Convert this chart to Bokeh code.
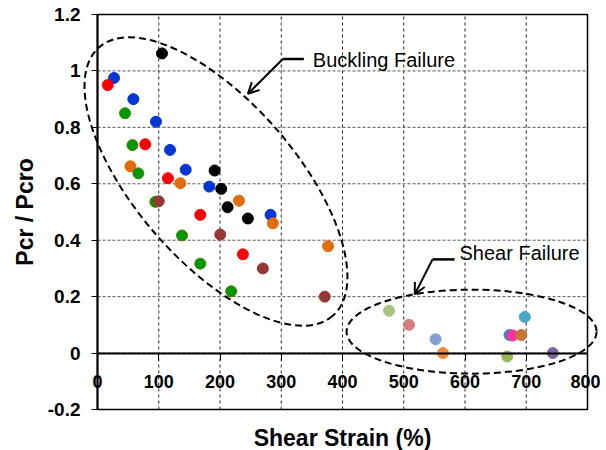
from bokeh.plotting import figure
from bokeh.models import (Range1d, FixedTicker, Arrow, OpenHead, Label, BoxAnnotation)
from bokeh.embed import file_html
from bokeh.resources import INLINE

# ---- data ----
x_ticks = [0, 100, 200, 300, 400, 500, 600, 700, 800]
x_tick_labels = ["0", "100", "200", "300", "400", "500", "600", "700", "800"]
y_ticks = [-0.2, 0.0, 0.2, 0.4, 0.6, 0.8, 1.0, 1.2]
y_tick_labels = ["-0.2", "0", "0.2", "0.4", "0.6", "0.8", "1", "1.2"]

blue_x = [27, 58.5, 95.5, 118.4, 144, 182.5, 282.5]
blue_y = [0.975, 0.90, 0.82, 0.72, 0.65, 0.59, 0.49]
red_x = [16.8, 78, 115, 167.8, 237.4]
red_y = [0.95, 0.74, 0.62, 0.49, 0.35]
orange_x = [53.7, 135.2, 231, 286.3, 376.5]
orange_y = [0.662, 0.602, 0.54, 0.46, 0.379]
green_x = [45, 57, 66.7, 94.4, 138, 167.8, 218.3]
green_y = [0.85, 0.737, 0.637, 0.536, 0.417, 0.317, 0.219]
black_x = [105.3, 191.2, 202, 212.4, 245.5]
black_y = [1.062, 0.647, 0.582, 0.517, 0.477]
brown_x = [100, 200.4, 270, 371]
brown_y = [0.538, 0.42, 0.30, 0.20]

shear_x = [476, 508.6, 552, 564, 669, 672.7, 678, 692, 697.7, 743.4]
shear_y = [0.15, 0.10, 0.049, 0.0, -0.012, 0.064, 0.0625, 0.064, 0.128, 0.0]
shear_colors = ["#A9C47F", "#D3807F", "#819FD0", "#F08A3C", "#97B556",
                "#4F7FBD", "#FF3399", "#C57433", "#4BA8C4", "#7E62A0"]

FONT = "Liberation Sans"
X_MIN, X_MAX = x_ticks[0], x_ticks[-1]
Y_MIN, Y_MAX = y_ticks[0], y_ticks[-1]

# ---- layout: the frame covers the whole canvas; the plot box is drawn inside it ----
W, H = 600, 450
PX_L, PX_R, PY_T, PY_B = 97, 587, 14, 409
sx = (PX_R - PX_L) / (X_MAX - X_MIN)
sy = (PY_B - PY_T) / (Y_MAX - Y_MIN)
x_range = Range1d(X_MIN - PX_L / sx, X_MAX + (W - PX_R) / sx)
y_range = Range1d(Y_MIN - (H - PY_B) / sy, Y_MAX + PY_T / sy)

p = figure(width=W, height=H, x_range=x_range, y_range=y_range,
           output_backend="svg", toolbar_location=None, min_border=0)
p.min_border_left = p.min_border_right = p.min_border_top = p.min_border_bottom = 0
p.background_fill_color = "white"
p.border_fill_color = "white"
p.outline_line_color = None
p.xgrid.visible = False
p.ygrid.visible = False

# grid lines (dashed) inside the plot box
p.segment(x0=x_ticks, y0=[Y_MIN] * len(x_ticks), x1=x_ticks, y1=[Y_MAX] * len(x_ticks),
          line_color="#222222", line_dash="3 3", line_width=1)
p.segment(x0=[X_MIN] * len(y_ticks), y0=y_ticks, x1=[X_MAX] * len(y_ticks), y1=y_ticks,
          line_color="#555555", line_dash="3 2", line_width=1)

# plot box border
p.add_layout(BoxAnnotation(left=X_MIN, right=X_MAX, bottom=Y_MIN, top=Y_MAX,
                           fill_alpha=0, line_color="black", line_alpha=1, line_width=1.5))

# x axis drawn along y = 0
xa = p.xaxis[0]
xa.fixed_location = 0
xa.bounds = (X_MIN, X_MAX)
xa.ticker = FixedTicker(ticks=x_ticks)
xa.major_label_overrides = dict(zip(x_ticks, x_tick_labels))
xa.axis_line_width = 2
xa.axis_line_color = "black"
xa.major_tick_out = 7
xa.major_tick_in = 0
xa.minor_tick_line_color = None
xa.major_label_standoff = 15
xa.major_label_text_font = FONT
xa.major_label_text_font_style = "bold"
xa.major_label_text_font_size = "18px"
xa.major_label_text_color = "black"

# y axis drawn along x = 0
ya = p.yaxis[0]
ya.fixed_location = 0
ya.bounds = (Y_MIN, Y_MAX)
ya.ticker = FixedTicker(ticks=y_ticks)
ya.major_label_overrides = dict(zip(y_ticks, y_tick_labels))
ya.axis_line_width = 2
ya.axis_line_color = "black"
ya.major_tick_out = 6
ya.major_tick_in = 0
ya.minor_tick_line_color = None
ya.major_label_standoff = 11
ya.major_label_text_font = FONT
ya.major_label_text_font_style = "bold"
ya.major_label_text_font_size = "19px"
ya.major_label_text_color = "black"

# axis titles
p.add_layout(Label(x=(X_MIN + X_MAX) / 2, y=Y_MIN - 28 / sy, text="Shear Strain (%)",
                   text_align="center", text_baseline="middle", text_font=FONT,
                   text_font_style="bold", text_font_size="23px", text_color="black"))
p.add_layout(Label(x=X_MIN - 73 / sx, y=(Y_MIN + Y_MAX) / 2, text="Pcr / Pcro", angle=90,
                   angle_units="deg", text_align="center", text_baseline="middle",
                   text_font=FONT, text_font_style="bold", text_font_size="23px",
                   text_color="black"))

# ---- points ----
S = 11
p.scatter(blue_x, blue_y, size=S, fill_color="#0535D2", line_color="#0535D2")
p.scatter(red_x, red_y, size=S, fill_color="#FF0000", line_color="#FF0000")
p.scatter(orange_x, orange_y, size=S, fill_color="#E36C0A", line_color="#E36C0A")
p.scatter(green_x, green_y, size=S, fill_color="#009A00", line_color="#4F7A00")
p.scatter(black_x, black_y, size=S, fill_color="black", line_color="black")
p.scatter(brown_x, brown_y, size=S, fill_color="#953735", line_color="#953735")
p.scatter(shear_x, shear_y, size=S, fill_color=shear_colors, line_color=shear_colors)

# ---- annotations ----
p.ellipse(x=[193.4], y=[0.608], width=356, height=160, angle=-49, angle_units="deg",
          width_units="screen", height_units="screen",
          fill_color=None, line_color="black", line_width=2, line_dash="7 4")
p.ellipse(x=[610.8], y=[0.076], width=250, height=84,
          width_units="screen", height_units="screen",
          fill_color=None, line_color="black", line_width=2, line_dash="7 4")

p.add_layout(Arrow(x_start=302.6, y_start=1.042, x_end=336.9, y_end=1.042, end=None,
                   line_width=2.5, line_color="black"))
p.add_layout(Arrow(x_start=302.6, y_start=1.042, x_end=245.6, y_end=0.919,
                   end=OpenHead(size=11, line_width=2, line_color="black"),
                   line_width=2, line_color="black"))
p.add_layout(Arrow(x_start=547, y_start=0.332, x_end=583, y_end=0.332, end=None,
                   line_width=2.5, line_color="black"))
p.add_layout(Arrow(x_start=547, y_start=0.332, x_end=518, y_end=0.2085,
                   end=OpenHead(size=11, line_width=2, line_color="black"),
                   line_width=2, line_color="black"))

p.add_layout(Label(x=351.6, y=1.04, text="Buckling Failure", text_baseline="middle",
                   text_font=FONT, text_font_size="20px", text_color="black"))
p.add_layout(Label(x=591, y=0.353, text="Shear Failure", text_baseline="middle",
                   text_font=FONT, text_font_size="20px", text_color="black"))

open("out.html", "w").write(file_html(p, INLINE))
